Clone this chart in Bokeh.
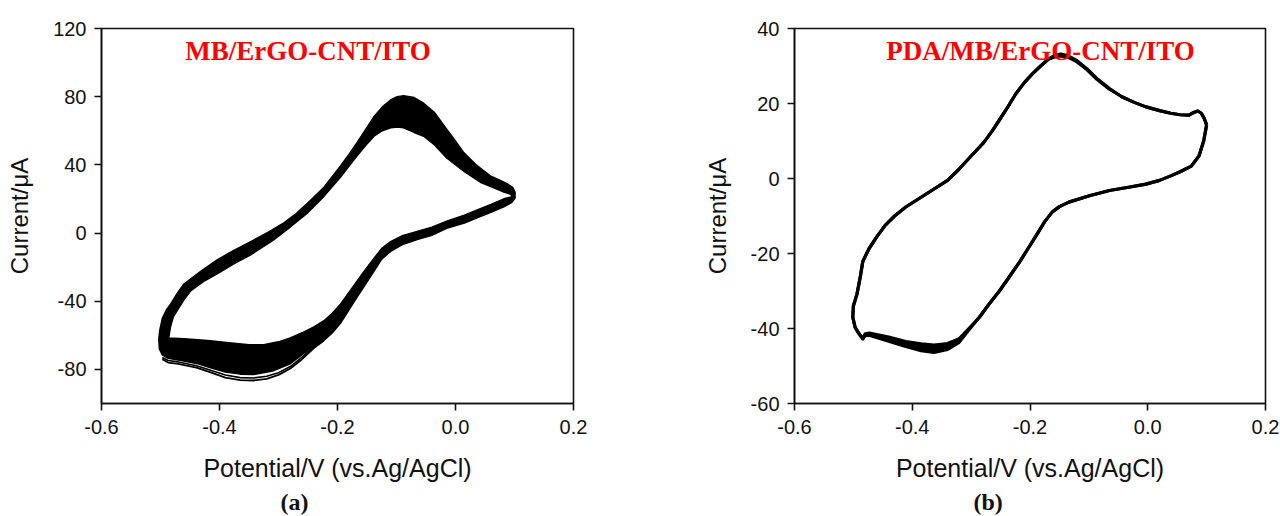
from bokeh.plotting import figure
from bokeh.layouts import row
from bokeh.models import Range1d, FixedTicker, Label, Title
from bokeh.embed import file_html
from bokeh.resources import INLINE

# ---------------- data: panel (a) MB/ErGO-CNT/ITO ----------------
# outer boundary of the cycle band (first cycles), cathodic sweep then anodic sweep
E_a_outer = [0.101, 0.095, 0.082, 0.060, 0.042, 0.015, -0.015, -0.040, -0.065, -0.090,
             -0.110, -0.125, -0.138, -0.152, -0.167, -0.181, -0.195, -0.209, -0.223, -0.240,
             -0.260, -0.280, -0.310, -0.342, -0.365, -0.390, -0.415, -0.439, -0.470, -0.487,
             -0.497, -0.502,
             -0.503, -0.501, -0.497, -0.490, -0.483, -0.472, -0.461, -0.432, -0.404, -0.375,
             -0.347, -0.315, -0.291, -0.270, -0.251, -0.223, -0.195, -0.181, -0.167, -0.152,
             -0.138, -0.124, -0.110, -0.099, -0.088, -0.070, -0.054, -0.035, -0.015, 0.000,
             0.014, 0.035, 0.059, 0.075, 0.088, 0.097, 0.101]
I_a_outer = [20.5, 17.8, 15.4, 12.2, 9.6, 5.8, 2.8, -1.3, -3.9, -6.8,
             -10.8, -15.3, -22.3, -29.8, -37.8, -45.3, -53.0, -58.6, -63.0, -66.5,
             -71.3, -76.7, -81.0, -83.0, -82.8, -81.5, -79.0, -76.5, -74.5, -73.5,
             -71.5, -68.0,
             -62.0, -56.5, -50.0, -45.0, -41.7, -35.5, -30.1, -22.4, -15.7, -10.0,
             -5.0, 1.0, 6.0, 11.5, 17.5, 26.9, 39.4, 46.0, 53.0, 61.0,
             68.4, 74.0, 78.1, 80.0, 80.6, 79.5, 76.2, 70.5, 61.0, 54.0,
             47.2, 40.0, 33.6, 31.0, 28.8, 26.8, 24.0]

# inner boundary of the band (last cycle)
E_a_inner = [0.097, 0.082, 0.060, 0.042, 0.015, -0.015, -0.040, -0.065, -0.090, -0.110,
             -0.125, -0.138, -0.152, -0.167, -0.181, -0.195, -0.209, -0.223, -0.240, -0.260,
             -0.280, -0.300, -0.325, -0.350, -0.380, -0.420, -0.460, -0.486,
             -0.483, -0.478, -0.472, -0.460, -0.449, -0.425, -0.404, -0.375, -0.347, -0.310,
             -0.280, -0.250, -0.223, -0.195, -0.181, -0.167, -0.152, -0.138, -0.124, -0.110,
             -0.098, -0.088, -0.070, -0.054, -0.035, -0.015, 0.015, 0.042, 0.065, 0.082, 0.093]
I_a_inner = [21.5, 20.1, 16.8, 14.3, 10.5, 7.0, 3.5, 1.0, -1.5, -5.0,
             -9.0, -14.7, -21.0, -28.2, -35.0, -41.7, -47.0, -51.4, -55.0, -58.5,
             -61.5, -63.8, -65.5, -65.5, -64.5, -63.0, -62.0, -61.5,
             -55.0, -49.0, -45.6, -39.0, -34.0, -28.0, -24.0, -18.0, -12.8, -4.5,
             3.5, 12.0, 21.5, 32.7, 39.0, 45.2, 51.5, 56.8, 60.0, 61.7,
             62.2, 61.7, 59.0, 56.8, 51.5, 44.0, 36.0, 29.8, 26.5, 24.0, 22.8]

# first two cycles, separated from the band near the cathodic peak
E_a_bottom = [-0.497, -0.487, -0.470, -0.439, -0.415, -0.390, -0.365, -0.342, -0.320,
              -0.300, -0.280, -0.260, -0.240, -0.223]
I_a_cycle1 = [-74.0, -76.0, -76.8, -79.0, -81.8, -84.8, -86.3, -86.5, -85.5,
              -83.2, -79.5, -74.0, -67.5, -63.0]
I_a_cycle2 = [-73.0, -74.8, -75.6, -77.8, -80.5, -83.3, -84.8, -85.0, -84.0,
              -81.9, -78.3, -72.8, -66.8, -62.8]

# ---------------- data: panel (b) PDA/MB/ErGO-CNT/ITO ----------------
E_b = [0.100, 0.095, 0.087, 0.074, 0.055, 0.039, 0.020, -0.003, -0.035, -0.065,
       -0.099, -0.134, -0.150, -0.162, -0.175, -0.189, -0.203, -0.217, -0.235, -0.252,
       -0.270, -0.286, -0.305, -0.321, -0.340, -0.363, -0.385, -0.411, -0.440, -0.473,
       -0.480, -0.484, -0.490, -0.497, -0.501,
       -0.500, -0.494, -0.488, -0.484, -0.473, -0.460, -0.446, -0.430, -0.411, -0.385,
       -0.363, -0.340, -0.321, -0.300, -0.279, -0.265, -0.252, -0.238, -0.224, -0.210,
       -0.196, -0.182, -0.169, -0.158, -0.148, -0.135, -0.120, -0.103, -0.086, -0.065,
       -0.044, -0.023, -0.003, 0.020, 0.039, 0.055, 0.070, 0.078, 0.085, 0.091,
       0.096, 0.100]
I_b_first = [14.3, 10.0, 6.0, 3.3, 1.8, 0.7, -0.5, -1.5, -2.4, -3.2,
             -4.6, -6.3, -7.5, -8.9, -11.5, -15.1, -18.6, -22.1, -26.2, -30.0,
             -33.6, -37.0, -40.6, -43.8, -45.6, -46.4, -45.9, -44.8, -43.4, -41.8,
             -41.9, -42.8, -41.5, -39.7, -37.0,
             -34.0, -30.9, -26.0, -22.1, -18.6, -15.5, -12.5, -10.0, -7.6, -5.0,
             -2.8, -0.5, 2.4, 6.0, 9.5, 12.5, 15.6, 19.0, 22.6, 25.5,
             27.9, 30.0, 31.8, 32.8, 33.2, 32.7, 31.4, 29.2, 26.6, 24.0,
             21.8, 20.3, 19.1, 18.1, 17.4, 17.0, 16.9, 17.6, 18.0, 17.4,
             16.0, 14.3]
I_b_last = [14.3, 10.0, 6.0, 3.3, 1.8, 0.7, -0.5, -1.5, -2.4, -3.2,
            -4.6, -6.3, -7.5, -8.9, -11.5, -15.1, -18.6, -22.1, -26.2, -30.0,
            -33.6, -37.0, -40.2, -42.8, -44.0, -44.4, -44.1, -43.5, -42.3, -41.2,
            -41.4, -42.6, -41.5, -39.7, -37.0,
            -34.0, -30.9, -26.0, -22.1, -18.6, -15.5, -12.5, -10.0, -7.6, -5.0,
            -2.8, -0.5, 2.4, 6.0, 9.5, 12.5, 15.6, 19.0, 22.6, 25.5,
            27.9, 30.0, 31.8, 32.4, 32.7, 32.3, 31.1, 29.0, 26.4, 23.8,
            21.8, 20.3, 19.1, 18.1, 17.4, 17.0, 16.9, 17.6, 18.0, 17.4,
            16.0, 14.3]

# ---------------- axes ----------------
x_ticks = [-0.6, -0.4, -0.2, 0.0, 0.2]
x_tick_labels = ["-0.6", "-0.4", "-0.2", "0.0", "0.2"]
ya_ticks = [-80, -40, 0, 40, 80, 120]
ya_tick_labels = ["-80", "-40", "0", "40", "80", "120"]
yb_ticks = [-60, -40, -20, 0, 20, 40]
yb_tick_labels = ["-60", "-40", "-20", "0", "20", "40"]

x_label = "Potential/V (vs.Ag/AgCl)"
y_label = "Current/\u03bcA"
title_a = "MB/ErGO-CNT/ITO"
title_b = "PDA/MB/ErGO-CNT/ITO"
caption_a = "(a)"
caption_b = "(b)"

SANS = "Liberation Sans"
SERIF = "Liberation Serif"


def make_fig(yr, yticks, ylabels, borders):
    left, right, top, bottom = borders
    p = figure(width=640, height=516, x_range=Range1d(-0.6, 0.2), y_range=Range1d(*yr),
               output_backend="svg", toolbar_location=None,
               min_border_left=left, min_border_right=right,
               min_border_top=top, min_border_bottom=bottom,
               background_fill_color="white", border_fill_color="white")
    p.grid.visible = False
    p.outline_line_color = "#111111"
    p.outline_line_width = 1.6
    p.outline_line_alpha = 1.0
    p.xaxis.ticker = FixedTicker(ticks=x_ticks)
    p.xaxis.major_label_overrides = {t: s for t, s in zip(x_ticks, x_tick_labels)}
    p.yaxis.ticker = FixedTicker(ticks=yticks)
    p.yaxis.major_label_overrides = {t: s for t, s in zip(yticks, ylabels)}
    for ax in (p.xaxis[0], p.yaxis[0]):
        ax.axis_line_color = "#111111"
        ax.axis_line_width = 1.6
        ax.major_tick_line_color = "#111111"
        ax.major_tick_line_width = 1.6
        ax.major_tick_out = 7
        ax.major_tick_in = 0
        ax.minor_tick_line_color = None
        ax.major_label_text_font = SANS
        ax.major_label_text_font_size = "20px"
        ax.major_label_text_color = "#111111"
        ax.axis_label_text_font = SANS
        ax.axis_label_text_font_style = "normal"
        ax.axis_label_text_color = "#111111"
    p.xaxis.axis_label_text_font_size = "25px"
    p.yaxis.axis_label_text_font_size = "24px"
    p.xaxis.major_label_standoff = 9
    p.yaxis.major_label_standoff = 8
    p.xaxis.axis_label = x_label
    p.yaxis.axis_label = y_label
    p.xaxis.axis_label_standoff = 17
    p.yaxis.axis_label_standoff = 17
    return p


def add_caption(p, text):
    p.add_layout(Title(text=text, align="left", offset=179, standoff=4,
                       text_font=SERIF, text_font_size="24px", text_font_style="bold",
                       text_color="#111111"), "below")


# ---------------- panel (a) ----------------
pa = make_fig((-100, 120), ya_ticks, ya_tick_labels, (101, 67, 28, 108))
pa.multi_polygons(xs=[[[E_a_outer, E_a_inner[::-1]]]], ys=[[[I_a_outer, I_a_inner[::-1]]]],
                  fill_color="black", line_color="black", line_width=1.4, line_join="round")
pa.line(E_a_bottom, I_a_cycle1, line_color="black", line_width=1.8, line_join="round")
pa.line(E_a_bottom, I_a_cycle2, line_color="black", line_width=1.6, line_join="round")
pa.add_layout(Label(x=-0.25, y=107.0, text=title_a, text_align="center",
                    text_baseline="alphabetic", text_font=SERIF,
                    text_font_size="27px", text_font_style="bold", text_color="#ff0000"))
add_caption(pa, caption_a)

# ---------------- panel (b) ----------------
pb = make_fig((-60, 40), yb_ticks, yb_tick_labels, (154, 15, 24, 112))
pb.multi_polygons(xs=[[[E_b, E_b[::-1]]]], ys=[[[I_b_first, I_b_last[::-1]]]],
                  fill_color="black", line_color=None)
pb.line(E_b, I_b_first, line_color="black", line_width=3.2, line_join="round")
pb.line(E_b, I_b_last, line_color="black", line_width=3.2, line_join="round")
pb.add_layout(Label(x=-0.182, y=34.0, text=title_b, text_align="center",
                    text_baseline="alphabetic", text_font=SERIF,
                    text_font_size="27px", text_font_style="bold", text_color="#ff0000"))
add_caption(pb, caption_b)

layout = row(pa, pb, spacing=0)
open("out.html", "w").write(file_html(layout, INLINE))
